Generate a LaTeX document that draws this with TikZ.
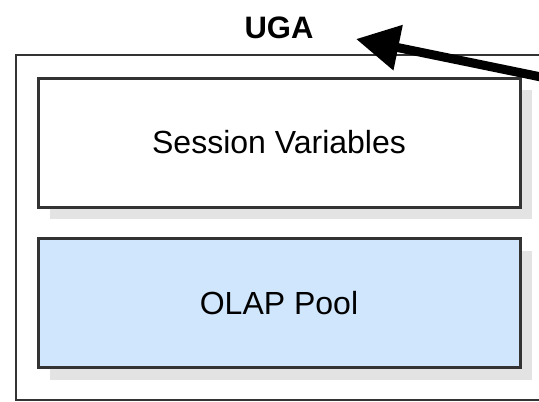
\documentclass[tikz,border=0pt]{standalone}
\usepackage{fontspec}
\setmainfont{Liberation Sans}
\usetikzlibrary{arrows.meta,shadows}
\definecolor{poolblue}{HTML}{D0E6FC}
\definecolor{shadegray}{HTML}{E3E3E3}
\definecolor{edgegray}{HTML}{333333}
\begin{document}
\begin{tikzpicture}[x=1pt,y=-1pt,inner sep=0pt]
    \tikzstyle{layer}=[rectangle,draw=edgegray,line width=3pt,minimum width=482pt,minimum height=129pt,
        font=\fontsize{32}{38}\selectfont,
        drop shadow={shadow xshift=12pt,shadow yshift=-12pt,fill=shadegray,opacity=1}]
    \useasboundingbox (0,0) rectangle (539,402);
    \clip (0,0) rectangle (539,402);

    \node[rectangle,draw=edgegray,line width=2pt,minimum width=526pt,minimum height=345pt,
        label={[label distance=15pt,font=\fontsize{31}{36}\selectfont\bfseries]above:UGA}] (uga) at (279,227.5) {};
    \node[layer,fill=white] (vars) at (279,142.5) {Session Variables};
    \node[layer,fill=poolblue] (pool) at (279,303) {OLAP Pool};

    \coordinate (tip) at (356,39);
    \coordinate (src) at (580,85);
    \draw[line width=9pt,-{Triangle[length=43pt,width=44pt]}] (src) -- (tip);
\end{tikzpicture}
\end{document}
